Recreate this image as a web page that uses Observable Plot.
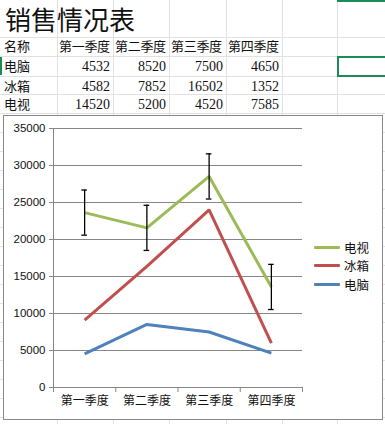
<!DOCTYPE html>
<html>
<head>
<meta charset="utf-8">
<script src="https://cdn.jsdelivr.net/npm/d3@7"></script>
<script src="https://cdn.jsdelivr.net/npm/@observablehq/plot@0.6"></script>
<style>
  html, body { margin: 0; padding: 0; background: #fff; }
  body { width: 385px; height: 424px; position: relative; overflow: hidden; font-family: "Liberation Serif", "Noto Sans CJK SC", serif; }
  .gl { position: absolute; background: #e1e1e1; }
  .cell { position: absolute; font-size: 13px; line-height: 19px; color: #111; white-space: nowrap; }
  #chartbox { position: absolute; left: 3px; top: 115px; width: 378px; height: 303px; border: 1px solid #888; background: #fff; }
  #legend { position: absolute; left: 314px; top: 238px; font-family: "Noto Sans CJK SC", sans-serif; font-size: 12.5px; color: #111; }
  #legend .row { display: flex; align-items: center; height: 18.6px; }
  #legend .sw { width: 26px; height: 3px; margin-right: 4px; border-radius: 1px; }
</style>
</head>
<body>
<div id="grid"></div>
<div id="cells"></div>
<div id="chartbox"></div>
<div id="legend"></div>
<script>
// ---- data ----
const title = "销售情况表";
const headerName = "名称";
const quarters = ["第一季度", "第二季度", "第三季度", "第四季度"];
const seriesNames = ["电脑", "冰箱", "电视"];
const pcSales = [4532, 8520, 7500, 4650];
const fridgeSales = [4582, 7852, 16502, 1352];
const tvSales = [14520, 5200, 4520, 7585];
const tvErrorAmount = [3050, 3050, 3050, 3050];
const yTicks = [0, 5000, 10000, 15000, 20000, 25000, 30000, 35000];
const seriesColors = ["#4f81bd", "#c0504d", "#9bbb59"];
const legendOrder = ["电视", "冰箱", "电脑"];

// ---- spreadsheet grid ----
const colEdges = [57, 113, 169, 226, 282, 337];
const rowEdges = [37, 56, 76, 94, 113, 132, 151, 170, 189, 208, 227, 246, 265, 284, 303, 322, 341, 360, 379, 398, 417];
const grid = document.getElementById("grid");
for (const x of colEdges) {
  const d = document.createElement("div");
  d.className = "gl"; d.style.left = x + "px"; d.style.top = "0px"; d.style.width = "1px"; d.style.height = "424px";
  grid.appendChild(d);
}
for (const y of rowEdges) {
  const d = document.createElement("div");
  d.className = "gl"; d.style.left = "0px"; d.style.top = y + "px"; d.style.width = "385px"; d.style.height = "1px";
  grid.appendChild(d);
}
// selected cell and indicators
function box(l, t, w, h, style) {
  const d = document.createElement("div");
  d.style.position = "absolute"; d.style.left = l + "px"; d.style.top = t + "px";
  d.style.width = w + "px"; d.style.height = h + "px";
  Object.assign(d.style, style);
  grid.appendChild(d);
}
box(337, 56, 48, 17, {border: "2px solid #1d8a5a", borderRight: "none"});
box(337, 0, 48, 2, {background: "#1d8a5a"});
box(0, 57, 2, 18, {background: "#1d8a5a"});

// ---- cell texts ----
const cells = document.getElementById("cells");
function cell(text, left, top, width, align, extra) {
  const d = document.createElement("div");
  d.className = "cell";
  d.textContent = text;
  d.style.left = left + "px"; d.style.top = top + "px"; d.style.width = width + "px";
  d.style.textAlign = align;
  if (extra) Object.assign(d.style, extra);
  cells.appendChild(d);
}
cell(title, 5, 1, 200, "left", {fontSize: "26px", lineHeight: "36px", fontFamily: "'Noto Sans CJK SC', sans-serif"});
cell(headerName, 4, 37, 52, "left");
const colLefts = [57, 113, 169, 226];
quarters.forEach((q, i) => cell(q, colLefts[i] + 2, 37, 56, "left", {letterSpacing: "-0.3px"}));
const rowsData = [pcSales, fridgeSales, tvSales];
seriesNames.forEach((name, r) => {
  const top = rowEdges[r + 1] + 1;
  cell(name, 4, top, 52, "left");
  rowsData[r].forEach((v, i) => {
    const right = colEdges[i + 1];
    cell(String(v), right - 60, top, 57, "right", {fontSize: "14px"});
  });
});

// ---- chart ----
const rows = [];
quarters.forEach((q, i) => {
  rows.push({i, series: "电脑", value: pcSales[i]});
  rows.push({i, series: "冰箱", value: fridgeSales[i]});
  rows.push({i, series: "电视", value: tvSales[i]});
});
const totals = quarters.map((q, i) => ({
  i,
  total: pcSales[i] + fridgeSales[i] + tvSales[i],
  err: tvErrorAmount[i]
}));
const boundaries = d3.range(quarters.length + 1);
const centers = quarters.map((q, i) => i + 0.5);

const chart = Plot.plot({
  width: 378,
  height: 303,
  marginLeft: 49,
  marginRight: 80,
  marginTop: 12,
  marginBottom: 32,
  style: {fontFamily: "'Liberation Sans', Arial, sans-serif", fontSize: "11.5px", color: "#111", background: "transparent"},
  x: {domain: [0, quarters.length], axis: null},
  y: {domain: [0, 35000], axis: null},
  color: {domain: seriesNames, range: seriesColors},
  marks: [
    Plot.gridY(yTicks, {stroke: "#878787", strokeOpacity: 1, strokeWidth: 1}),
    Plot.ruleX([0], {stroke: "#878787"}),
    Plot.ruleY([0], {stroke: "#878787"}),
    Plot.axisY(yTicks, {tickSize: 4, tickPadding: 4, stroke: "#878787", tickFormat: d => String(d), fontSize: 11.5, label: null}),
    Plot.axisX(boundaries, {tickSize: 5, tickFormat: () => "", stroke: "#878787", label: null}),
    Plot.axisX(centers, {tickSize: 0, tickPadding: 9, tickFormat: d => quarters[Math.floor(d)], fontSize: 12, fontFamily: "'Noto Sans CJK SC', sans-serif", label: null}),
    Plot.lineY(rows, Plot.stackY2({
      x: d => d.i + 0.5,
      y: "value",
      z: "series",
      stroke: "series",
      order: seriesNames,
      strokeWidth: 3,
      strokeLinejoin: "miter",
      strokeLinecap: "butt"
    })),
    Plot.ruleX(totals, {x: d => d.i + 0.5, y1: d => d.total - d.err, y2: d => d.total + d.err, stroke: "#000", strokeWidth: 1.3}),
    Plot.ruleY(totals, {y: d => d.total + d.err, x1: d => d.i + 0.5 - 0.045, x2: d => d.i + 0.5 + 0.045, stroke: "#000", strokeWidth: 1.3}),
    Plot.ruleY(totals, {y: d => d.total - d.err, x1: d => d.i + 0.5 - 0.045, x2: d => d.i + 0.5 + 0.045, stroke: "#000", strokeWidth: 1.3})
  ]
});
document.getElementById("chartbox").appendChild(chart);

// ---- legend ----
const legend = document.getElementById("legend");
legendOrder.forEach(name => {
  const row = document.createElement("div");
  row.className = "row";
  const sw = document.createElement("div");
  sw.className = "sw";
  sw.style.background = seriesColors[seriesNames.indexOf(name)];
  const t = document.createElement("span");
  t.textContent = name;
  row.appendChild(sw); row.appendChild(t);
  legend.appendChild(row);
});
</script>
</body>
</html>
